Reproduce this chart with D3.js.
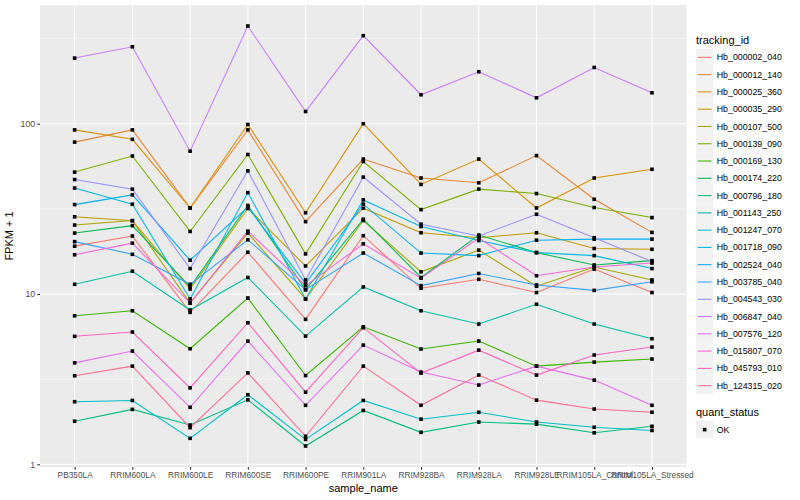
<!DOCTYPE html>
<html>
<head>
<meta charset="utf-8">
<script src="https://cdn.jsdelivr.net/npm/d3@7"></script>
<style>
  body { margin: 0; background: #fff; }
  text { font-family: "Liberation Sans", Arial, sans-serif; }
</style>
</head>
<body>
<div id="chart"></div>
<script>
// samples on the x axis
var samples = ["PB350LA", "RRIM600LA", "RRIM600LE", "RRIM600SE", "RRIM600PE", "RRIM901LA",
  "RRIM928BA", "RRIM928LA", "RRIM928LE", "RRIM105LA_Control", "RRIM105LA_Stressed"];

var trackingIds = ["Hb_000002_040", "Hb_000012_140", "Hb_000025_360", "Hb_000035_290", "Hb_000107_500",
  "Hb_000139_090", "Hb_000169_130", "Hb_000174_220", "Hb_000796_180", "Hb_001143_250",
  "Hb_001247_070", "Hb_001718_090", "Hb_002524_040", "Hb_003785_040", "Hb_004543_030",
  "Hb_006847_040", "Hb_007576_120", "Hb_015807_070", "Hb_045793_010", "Hb_124315_020"];

// FPKM + 1, one value per sample
var hb_000002_040 = [19.1, 21.9, 7.8, 17.6, 7.1, 22.0, 10.8, 12.2, 10.2, 14.0, 10.2];
var hb_000012_140 = [78, 92, 32, 92, 26.6, 62, 48, 45, 65, 36, 23];
var hb_000025_360 = [92, 81, 32, 99, 30, 100, 44, 62, 32, 48, 54];
var hb_000035_290 = [28.4, 26.9, 10.7, 31.8, 14.6, 31.9, 22.9, 21.4, 22.9, 18.5, 18.3];
var hb_000107_500 = [25.4, 27, 8.85, 22.8, 9.35, 27, 13.5, 18.1, 11.1, 14.4, 12.1];
var hb_000139_090 = [52, 64.6, 23.3, 66, 17.2, 60, 31.3, 41.3, 38.9, 32.2, 28.1];
var hb_000169_130 = [7.45, 7.97, 4.77, 9.47, 3.32, 6.42, 4.75, 5.29, 3.77, 3.98, 4.15];
var hb_000174_220 = [22.8, 25.2, 11.0, 33.1, 10.6, 27.5, 12.5, 22.2, 17.5, 14.8, 15.7];
var hb_000796_180 = [1.79, 2.1, 1.7, 2.39, 1.28, 2.07, 1.54, 1.77, 1.72, 1.53, 1.67];
var hb_001143_250 = [11.4, 13.6, 8.05, 12.5, 5.66, 11.0, 7.97, 6.66, 8.7, 6.66, 5.46];
var hb_001247_070 = [2.33, 2.37, 1.42, 2.56, 1.4, 2.37, 1.84, 2.02, 1.77, 1.65, 1.58];
var hb_001718_090 = [41.9, 33.7, 9.35, 39.4, 9.35, 35.7, 24.9, 20.6, 17.5, 16.8, 14.1];
var hb_002524_040 = [33.5, 38.2, 15.8, 32.4, 11.5, 33.7, 17.4, 16.8, 20.7, 21, 21];
var hb_003785_040 = [20.3, 17.1, 11.4, 20.8, 10.6, 17.4, 11.2, 13.2, 11.3, 10.5, 11.8];
var hb_004543_030 = [47, 41.3, 14.1, 52.9, 12.1, 48.6, 25.7, 21.9, 29.4, 21.4, 15.5];
var hb_006847_040 = [243, 283, 69, 375, 118, 329, 148, 202, 142, 214, 152];
var hb_007576_120 = [3.94, 4.62, 2.16, 5.29, 2.22, 5.01, 3.48, 2.92, 3.77, 3.12, 2.22];
var hb_015807_070 = [17.0, 19.9, 8.85, 23.4, 11.2, 19.7, 12.4, 21.3, 12.8, 14.4, 15.2];
var hb_045793_010 = [5.64, 5.98, 2.81, 6.78, 2.65, 6.34, 3.43, 4.68, 3.34, 4.38, 4.88];
var hb_124315_020 = [3.31, 3.77, 1.64, 3.44, 1.46, 3.77, 2.22, 3.34, 2.38, 2.11, 2.02];

var fpkm = [hb_000002_040, hb_000012_140, hb_000025_360, hb_000035_290, hb_000107_500,
  hb_000139_090, hb_000169_130, hb_000174_220, hb_000796_180, hb_001143_250,
  hb_001247_070, hb_001718_090, hb_002524_040, hb_003785_040, hb_004543_030,
  hb_006847_040, hb_007576_120, hb_015807_070, hb_045793_010, hb_124315_020];

var yTicks = [1, 10, 100];
var yMinor = [Math.pow(10, 0.5), Math.pow(10, 1.5), Math.pow(10, 2.5)];
var quantStatus = ["OK"];

// ggplot hue palette, 20 levels
var huePal = ["#F8766D", "#EA8331", "#D89000", "#C09B00", "#A3A500", "#7CAE00", "#39B600", "#00BB4E",
  "#00BF7D", "#00C1A3", "#00BFC4", "#00BAE0", "#00B0F6", "#35A2FF", "#9590FF", "#C77CFF",
  "#E76BF3", "#FA62DB", "#FF62BC", "#FF6C91"];

var series = trackingIds.map(function(id, i) {
  return {id: id, values: fpkm[i]};
});

var W = 800, H = 500;
var margin = {top: 5, right: 113.4, bottom: 33, left: 40},
    width = W - margin.left - margin.right,
    height = H - margin.top - margin.bottom;

var svg = d3.select("#chart").append("svg")
    .attr("width", W)
    .attr("height", H);

svg.append("rect").attr("width", W).attr("height", H).attr("fill", "#fff");

var g = svg.append("g")
    .attr("transform", "translate(" + margin.left + "," + margin.top + ")");

// scales
var x = d3.scalePoint().domain(samples).range([0, width]).padding(0.6);

var all = d3.merge(fpkm);
var lo = Math.log10(d3.min(all)), hi = Math.log10(d3.max(all));
var pad = (hi - lo) * 0.05;
var y = d3.scaleLog()
    .domain([Math.pow(10, lo - pad), Math.pow(10, hi + pad)])
    .range([height, 0]);

var color = d3.scaleOrdinal().domain(trackingIds).range(huePal);

// panel
g.append("rect").attr("width", width).attr("height", height).attr("fill", "#EBEBEB");

g.selectAll(".minor").data(yMinor).enter().append("line")
    .attr("x1", 0).attr("x2", width)
    .attr("y1", function(d) { return y(d); }).attr("y2", function(d) { return y(d); })
    .attr("stroke", "#fff").attr("stroke-width", 0.53);

g.selectAll(".hgrid").data(yTicks).enter().append("line")
    .attr("x1", 0).attr("x2", width)
    .attr("y1", function(d) { return y(d); }).attr("y2", function(d) { return y(d); })
    .attr("stroke", "#fff").attr("stroke-width", 1.07);

g.selectAll(".vgrid").data(samples).enter().append("line")
    .attr("y1", 0).attr("y2", height)
    .attr("x1", function(d) { return x(d); }).attr("x2", function(d) { return x(d); })
    .attr("stroke", "#fff").attr("stroke-width", 1.07);

// lines
var line = d3.line()
    .x(function(d, i) { return x(samples[i]); })
    .y(function(d) { return y(d); });

g.selectAll(".series").data(series).enter().append("path")
    .attr("d", function(d) { return line(d.values); })
    .attr("fill", "none")
    .attr("stroke", function(d) { return color(d.id); })
    .attr("stroke-width", 1.07);

// points
var ps = 3.6;
series.forEach(function(s) {
  g.selectAll(null).data(s.values).enter().append("rect")
      .attr("x", function(d, i) { return x(samples[i]) - ps / 2; })
      .attr("y", function(d) { return y(d) - ps / 2; })
      .attr("width", ps).attr("height", ps)
      .attr("fill", "#000");
});

// axes
var xAxis = g.append("g")
    .attr("transform", "translate(0," + height + ")")
    .call(d3.axisBottom(x).tickSize(2.74).tickPadding(2));
var yAxis = g.append("g")
    .call(d3.axisLeft(y).tickValues(yTicks).tickFormat(d3.format("d")).tickSize(2.74).tickPadding(2));

[xAxis, yAxis].forEach(function(a) {
  a.select(".domain").remove();
  a.selectAll(".tick line").attr("stroke", "#333333").attr("stroke-width", 1.07);
  a.selectAll(".tick text").attr("fill", "#4D4D4D").attr("font-size", "8.8px")
      .attr("font-family", "Liberation Sans, Arial, sans-serif");
});
xAxis.selectAll(".tick text").attr("font-size", "8.3px");

g.append("text")
    .attr("x", width / 2).attr("y", height + 25)
    .attr("text-anchor", "middle").attr("font-size", "11px").attr("fill", "#000")
    .text("sample_name");

svg.append("text")
    .attr("transform", "translate(13," + (margin.top + height / 2) + ") rotate(-90)")
    .attr("text-anchor", "middle").attr("font-size", "11px").attr("fill", "#000")
    .text("FPKM + 1");

// legend: tracking_id
var lx = 696, ly = 48.7, key = 17.28;
var legend = svg.append("g");
legend.append("text").attr("x", lx).attr("y", 44).attr("font-size", "11px").text("tracking_id");

var items = legend.selectAll(".item").data(trackingIds).enter().append("g")
    .attr("transform", function(d, i) { return "translate(" + lx + "," + (ly + i * key) + ")"; });
items.append("rect").attr("width", key).attr("height", key).attr("fill", "#F2F2F2");
items.append("line")
    .attr("x1", 1.7).attr("x2", key - 1.7).attr("y1", key / 2).attr("y2", key / 2)
    .attr("stroke", function(d) { return color(d); }).attr("stroke-width", 1.07);
items.append("text").attr("x", key + 3.5).attr("y", key / 2).attr("dy", "0.35em")
    .attr("font-size", "8.8px").text(function(d) { return d; });

// legend: quant_status
var qy = ly + trackingIds.length * key + 22;
legend.append("text").attr("x", lx).attr("y", qy).attr("font-size", "11px").text("quant_status");
var q = legend.selectAll(".q").data(quantStatus).enter().append("g")
    .attr("transform", function(d, i) { return "translate(" + lx + "," + (qy + 4.7 + i * key) + ")"; });
q.append("rect").attr("width", key).attr("height", key).attr("fill", "#F2F2F2");
q.append("rect").attr("x", key / 2 - ps / 2).attr("y", key / 2 - ps / 2)
    .attr("width", ps).attr("height", ps).attr("fill", "#000");
q.append("text").attr("x", key + 3.5).attr("y", key / 2).attr("dy", "0.35em")
    .attr("font-size", "8.8px").text(function(d) { return d; });
</script>
</body>
</html>
